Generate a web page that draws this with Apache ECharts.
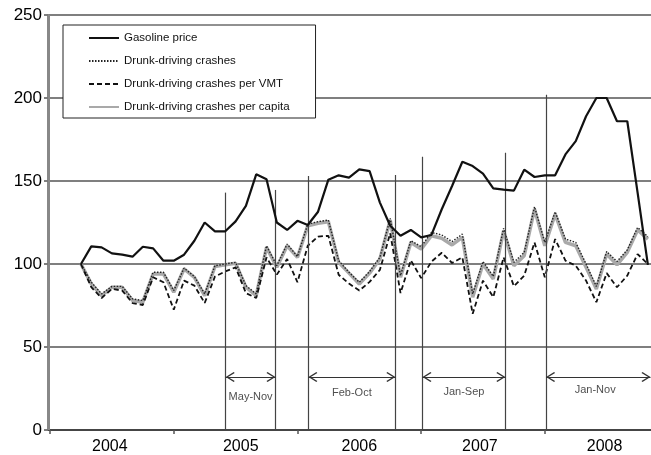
<!DOCTYPE html>
<html>
<head>
<meta charset="utf-8">
<script src="https://cdn.jsdelivr.net/npm/echarts@6/dist/echarts.min.js"></script>
<style>
  html, body { margin: 0; padding: 0; background: #fff; }
  #chart { width: 651px; height: 455px; }
</style>
</head>
<body>
<div id="chart"></div>
<script>
// Monthly index values (first month = 100); month numbers count from Jan 2004 = 1
const firstMonth = 4;
const gasolinePrice = [
  100, 110.6, 110, 106.4, 105.6, 104.4, 110.4, 109.4, 102, 102,
  105.6, 114, 125, 119.7, 119.7, 125.7, 135, 154, 151, 125,
  120.5, 126, 123.5, 131.5, 150.8, 153.4, 152, 157, 156, 137,
  123, 117, 120.5, 116, 117.5, 133, 147, 161.6, 159, 154.5,
  145.6, 144.8, 144.2, 156.8, 152.4, 153.4, 153.4, 166, 174, 189,
  200, 200, 186, 186, 143, 99.5
];
const crashes = [
  100, 89, 82, 86.5, 86.5, 79, 78, 95, 95, 84,
  97.5, 92.5, 82, 99, 100, 101, 87, 82, 111, 99,
  112, 104.5, 124, 125.5, 126.5, 102, 95, 89, 95.5, 104,
  127.5, 93, 114, 110.5, 119, 117.5, 113.5, 118, 82, 101.5,
  92.5, 121.5, 101, 107, 134.5, 113, 131.5, 115, 113, 100,
  86.5, 107.5, 101.5, 108.5, 122, 116.5
];
const crashesPerVMT = [
  100, 86, 79.5, 85, 84, 76.5, 75.3, 92, 89, 72.5,
  90, 87, 76.5, 92.5, 95.5, 98, 82.5, 79.5, 104, 93.6,
  103, 89, 111, 116.5, 117, 93.5, 88.2, 84, 89.2, 96.5,
  118.5, 82.5, 102.2, 91.5, 101.4, 106.8, 100.6, 104, 70, 90,
  80, 104, 86.6, 93, 113, 92, 115, 102, 99, 90,
  77, 94.5, 86, 93, 106, 100
];
const crashesPerCapita = [
  100, 88, 81, 86, 86, 78, 77, 94, 94, 83,
  97, 92, 81, 98.5, 99.5, 100.5, 86, 81, 110, 98,
  111, 104, 123, 124.5, 125.5, 101, 94.5, 88, 94.5, 103,
  126.5, 92, 113, 109, 117, 115.5, 111.5, 116, 80, 100,
  91, 120, 99, 105, 133, 111, 130, 113, 111, 98,
  85, 106, 99.5, 107, 120.5, 115
];

// Year labels (month number where each label sits) and year boundary ticks
const yearLabels = ['2004', '2005', '2006', '2007', '2008'];
const yearLabelPos = [6.8, 19.5, 31.0, 42.7, 54.8];
const yearTickPos = [1, 13, 25, 37, 49];
const yTicks = [0, 50, 100, 150, 200, 250];

// Marked periods: start/end month number, label, and height of the boundary lines
const periodNames = ['May-Nov', 'Feb-Oct', 'Jan-Sep', 'Jan-Nov'];
const periodStart = [18.04, 26.06, 37.13, 49.12];
const periodEnd = [22.87, 34.5, 45.17, 59.25];
const boundaryPos = [18.04, 22.87, 26.06, 34.5, 37.13, 45.17, 49.12];
const boundaryTop = [143, 144.6, 153, 153.6, 164.6, 167, 202];
const arrowLevel = 32;
const periodLabelLevel = [20, 22.3, 22.9, 24];

const xMin = 0.8, xMax = 59.3;
const names = ['Gasoline price', 'Drunk-driving crashes', 'Drunk-driving crashes per VMT', 'Drunk-driving crashes per capita'];
const toXY = arr => arr.map((v, i) => [firstMonth + i, v]);
const FONT = 'Liberation Sans';

// open chevron arrowhead with its tip at the centre of the symbol box
const chevron = 'path://M5,0L5.02,0L5,0.02Z M5,9L10,17L9,18L5,11.4L1,18L0,17Z';

const boundaryLines = boundaryPos.map((x, k) => [
  { coord: [x, 0] }, { coord: [x, boundaryTop[k]] }
]);
const arrowLines = periodStart.map((s, k) => [
  { coord: [s, arrowLevel], symbol: chevron },
  { coord: [periodEnd[k], arrowLevel], symbol: chevron }
]);
// value-axis spine, kept just inside the plotting area
const spineX = xMin + 0.03;
const spineLine = [[{ coord: [spineX, 0] }, { coord: [spineX, 250] }]];
const periodLabelData = periodNames.map((n, k) => ({
  name: n,
  value: [(periodStart[k] + Math.min(periodEnd[k], xMax)) / 2 + (k === 3 ? -0.3 : 0), periodLabelLevel[k]]
}));

const chart = echarts.init(document.getElementById('chart'), null, { renderer: 'canvas' });
chart.setOption({
  animation: false,
  backgroundColor: '#fff',
  textStyle: { fontFamily: FONT, color: '#000' },
  grid: { left: 48, right: 0, top: 15, bottom: 25 },
  legend: {
    data: names,
    orient: 'vertical',
    left: 63,
    top: 25,
    itemWidth: 30,
    itemHeight: 14,
    itemGap: 11,
    padding: [7, 26, 5, 25],
    backgroundColor: '#fff',
    borderColor: '#222',
    borderWidth: 1,
    borderRadius: 0,
    selectedMode: false,
    itemStyle: { opacity: 0 },
    textStyle: { fontSize: 11.5, color: '#111', fontFamily: FONT }
  },
  xAxis: {
    type: 'value',
    min: xMin,
    max: xMax,
    splitLine: { show: false },
    axisLine: { lineStyle: { color: '#333', width: 1.5 } },
    axisTick: { show: true, customValues: yearTickPos, length: 4, lineStyle: { color: '#555', width: 1.5 } },
    axisLabel: {
      customValues: yearLabelPos,
      margin: 9,
      fontSize: 16,
      color: '#000',
      fontFamily: FONT,
      formatter: v => {
        let best = 0;
        yearLabelPos.forEach((p, k) => { if (Math.abs(p - v) < Math.abs(yearLabelPos[best] - v)) best = k; });
        return yearLabels[best];
      }
    }
  },
  yAxis: {
    type: 'value',
    position: 'left',
    min: 0,
    max: 250,
    interval: 50,
    axisLine: { show: true, lineStyle: { color: '#888', width: 2 } },
    axisTick: { show: true, length: 4, lineStyle: { color: '#777', width: 1.5 } },
    axisLabel: { fontSize: 17, color: '#000', margin: 6, fontFamily: FONT },
    splitLine: { show: true, lineStyle: { color: '#555', width: 1.5 } }
  },
  series: [
    {
      name: names[3], type: 'line', data: toXY(crashesPerCapita), symbol: 'none',
      lineStyle: { color: '#a9a9a9', width: 3.5 }, itemStyle: { color: '#a9a9a9' }, z: 2
    },
    {
      name: names[1], type: 'line', data: toXY(crashes), symbol: 'none',
      lineStyle: { color: '#222', width: 1.4, type: [1.5, 1.5] }, itemStyle: { color: '#222' }, z: 3
    },
    {
      name: names[2], type: 'line', data: toXY(crashesPerVMT), symbol: 'none',
      lineStyle: { color: '#111', width: 1.8, type: [5, 3] }, itemStyle: { color: '#111' }, z: 4
    },
    {
      name: names[0], type: 'line', data: toXY(gasolinePrice), symbol: 'none',
      lineStyle: { color: '#111', width: 2.2 }, itemStyle: { color: '#111' }, z: 5
    },
    {
      name: 'value axis', type: 'line', data: [], silent: true, z: 1,
      markLine: {
        silent: true,
        symbol: 'none',
        label: { show: false },
        lineStyle: { color: '#888', width: 2, type: 'solid' },
        emphasis: { disabled: true },
        data: spineLine
      }
    },
    {
      name: 'periods', type: 'line', data: [], silent: true, z: 1,
      markLine: {
        silent: true,
        symbol: 'none',
        label: { show: false },
        lineStyle: { color: '#444', width: 1.2, type: 'solid' },
        emphasis: { disabled: true },
        data: boundaryLines
      }
    },
    {
      name: 'arrows', type: 'line', data: [], silent: true, z: 1,
      markLine: {
        silent: true,
        symbolSize: [10, 18],
        label: { show: false },
        lineStyle: { color: '#333', width: 1.2, type: 'solid' },
        itemStyle: { color: '#333' },
        emphasis: { disabled: true },
        data: arrowLines
      }
    },
    {
      name: 'period labels', type: 'scatter', silent: true, z: 6,
      symbolSize: 0,
      itemStyle: { color: 'rgba(0,0,0,0)' },
      label: {
        show: true, position: 'inside', fontSize: 11, color: '#222',
        fontFamily: FONT, formatter: p => p.name
      },
      data: periodLabelData
    }
  ]
});

// Outward ticks on the value axis, placed through the grid's own scales
try {
  const tickGraphics = yTicks.map(v => {
    const p = chart.convertToPixel({ gridIndex: 0 }, [xMin, v]);
    return {
      type: 'line', z: 10, silent: true,
      shape: { x1: p[0] - 4, y1: p[1], x2: p[0], y2: p[1] },
      style: { stroke: '#777', lineWidth: 1.5 }
    };
  });
  chart.setOption({ graphic: tickGraphics });
} catch (e) { /* ticks are decorative */ }
</script>
</body>
</html>
